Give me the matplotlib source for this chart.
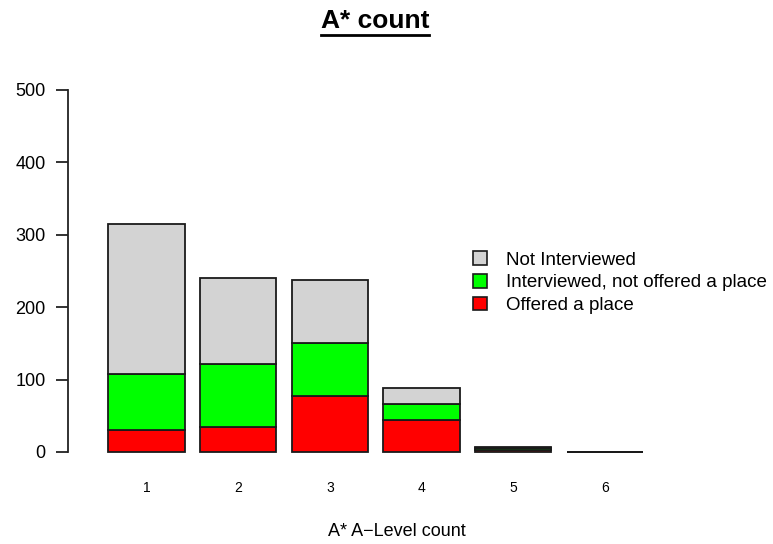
import matplotlib
matplotlib.use('Agg')
from matplotlib import pyplot as plt
from matplotlib.patches import Patch
from matplotlib.lines import Line2D
import numpy as np

plt.rcParams['font.family'] = ['Liberation Sans', 'DejaVu Sans']

# data
categories = ['1', '2', '3', '4', '5', '6']
offered = [31, 35, 77, 44, 3, 0]
interviewed_not_offered = [77, 86, 74, 22, 2, 0]
not_interviewed = [207, 119, 87, 22, 2, 0]
series_labels = ['Not Interviewed', 'Interviewed, not offered a place', 'Offered a place']
series_colors = ['#d3d3d3', '#00ff00', '#ff0000']

W, H = 773, 544
fig = plt.figure(figsize=(W / 100, H / 100), dpi=100)

# axes box in pixel coordinates (y=0 at 452px, y=500 at 90px)
left, right, bottom, top = 68, 760, 452, 90
ax = fig.add_axes([left / W, 1 - bottom / H, (right - left) / W, (bottom - top) / H])

x = 0.7 + 1.2 * np.arange(len(categories))
edge = '#1a1a1a'
lw = 1.3
ax.bar(x, offered, 1.0, color=series_colors[2], edgecolor=edge, linewidth=lw, clip_on=False)
ax.bar(x, interviewed_not_offered, 1.0, bottom=offered, color=series_colors[1],
       edgecolor=edge, linewidth=lw, clip_on=False)
ax.bar(x, not_interviewed, 1.0, bottom=np.add(offered, interviewed_not_offered),
       color=series_colors[0], edgecolor=edge, linewidth=lw, clip_on=False)

ax.set_xlim(0.2 - 40.3 / 76.4, 0.2 + (right - 108.3) / 76.4)
ax.set_ylim(0, 500)

for s in ['top', 'right', 'bottom']:
    ax.spines[s].set_visible(False)
ax.spines['left'].set_color('#222222')
ax.spines['left'].set_linewidth(1.3)

ax.set_yticks([0, 100, 200, 300, 400, 500])
ax.tick_params(axis='y', length=9, width=1.3, color='#222222', pad=7, labelsize=13)
ax.set_xticks(x)
ax.set_xticklabels(categories)
ax.tick_params(axis='x', length=0, pad=21, labelsize=10)

fig.text(397 / W, 1 - 531 / H, 'A* A\u2212Level count', fontsize=13,
         ha='center', va='center')

handles = [Patch(facecolor=c, edgecolor=edge, linewidth=1.2) for c in series_colors]
fig.legend(handles, series_labels, loc='upper left', bbox_to_anchor=(464 / W, 1 - 242 / H),
           frameon=False, fontsize=13.5, handlelength=0.75, handleheight=0.75,
           handletextpad=1.0, labelspacing=0.28, borderpad=0)

title = fig.text(375 / W, 1 - 21 / H, 'A* count', fontsize=19, fontweight='bold',
                 ha='center', va='center')
fig.canvas.draw()
bb = title.get_window_extent().transformed(fig.transFigure.inverted())
uy = 1 - 35 / H
fig.add_artist(Line2D([bb.x0, bb.x1], [uy, uy], transform=fig.transFigure,
                      color='black', linewidth=2))

fig.savefig('out.png', dpi=100)
